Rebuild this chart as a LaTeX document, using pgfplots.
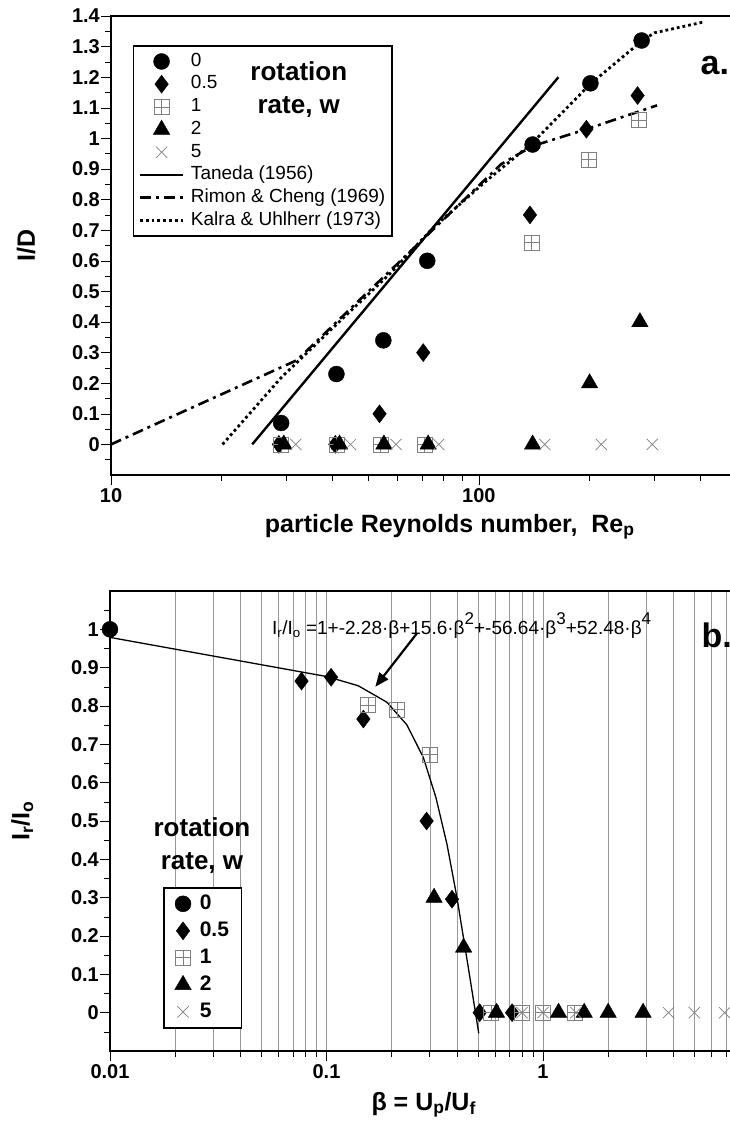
\documentclass[border=0pt]{standalone}
\usepackage{fontspec}
\setmainfont{Liberation Sans}
\usepackage{pgfplots}
\pgfplotsset{compat=1.18}
\usetikzlibrary{arrows.meta}

\pgfdeclareplotmark{boxplus}{%
  \pgfpathrectangle{\pgfqpoint{-\pgfplotmarksize}{-\pgfplotmarksize}}{\pgfqpoint{2\pgfplotmarksize}{2\pgfplotmarksize}}%
  \pgfpathmoveto{\pgfqpoint{-\pgfplotmarksize}{0pt}}\pgfpathlineto{\pgfqpoint{\pgfplotmarksize}{0pt}}%
  \pgfpathmoveto{\pgfqpoint{0pt}{-\pgfplotmarksize}}\pgfpathlineto{\pgfqpoint{0pt}{\pgfplotmarksize}}%
  \pgfusepathqstroke}

\newcommand{\hisup}[1]{\raisebox{0.55em}{\fontsize{17}{17}\selectfont #1}}

\pgfplotsset{
  mlegend/.style={legend image code/.code={\draw[mark repeat=2,mark phase=2,##1] plot coordinates {(0pt,0pt) (#1,0pt) ({2*#1},0pt)};}},
  w0/.style={only marks, mark=*, mark size=8pt, black, mark options={solid, line width=0.4pt}},
  w05/.style={only marks, mark=diamond*, mark size=9pt, black, mark options={solid, line width=0.4pt}},
  w1/.style={only marks, mark=boxplus, mark size=7.5pt, color=black!50, mark options={solid, line width=0.7pt}},
  w2/.style={only marks, mark=triangle*, mark size=9.5pt, black, mark options={solid, line width=0.4pt}},
  w5/.style={only marks, mark=x, mark size=8pt, color=black!50, mark options={solid, line width=0.7pt}},
}

\begin{document}
\begin{tikzpicture}
% ---------------- panel a ----------------
\begin{axis}[
  xmode=log, scale only axis,
  axis line style={line width=1.6pt},
  tick align=outside, tick pos=left,
  major tick length=10pt, minor tick length=6pt,
  every tick/.style={black, line width=0.6pt},
  ticklabel style={font=\bfseries\fontsize{20}{24}\selectfont},
  /pgf/number format/assume math mode=true,
  yticklabel style={/pgf/number format/fixed, /pgf/number format/precision=2, inner xsep=1pt},
  xlabel style={font=\bfseries\fontsize{25}{30}\selectfont, anchor=center, at={(axis description cs:0.542,-0.113)}},
  ylabel style={font=\bfseries\fontsize{25}{30}\selectfont, anchor=center, at={(axis description cs:-0.136,0.5)}},
  at={(111pt,-475pt)}, anchor=south west, width=625pt, height=459pt,
  xmin=10, xmax=500, ymin=-0.1, ymax=1.4,
  xtick={10,100}, xticklabels={10,100},
  minor xtick={20,30,40,50,60,70,80,90,200,300,400},
  ytick={0,0.1,0.2,0.3,0.4,0.5,0.6,0.7,0.8,0.9,1,1.1,1.2,1.3,1.4},
  minor ytick={-0.05,0.05,0.15,0.25,0.35,0.45,0.55,0.65,0.75,0.85,0.95,1.05,1.15,1.25,1.35},
  xlabel={particle Reynolds number,\ \ Re\textsubscript{p}},
  ylabel={I/D},
  legend style={at={(0.035,0.937)}, anchor=north west, draw=black, line width=1.6pt, fill=none,
    font=\fontsize{19}{21}\selectfont, inner xsep=5pt, inner ysep=5pt, row sep=1.2pt, column sep=5pt,
    nodes={inner sep=1.5pt, text height=14pt, text depth=4.5pt}},
  legend cell align=left,
]
\addplot[w0, mlegend=21.5pt] coordinates {(29,0.07)(41,0.23)(55,0.34)(72.4,0.60)(140,0.98)(201,1.18)(277,1.32)};
\addlegendentry{0}
\addplot[w05, mlegend=21.5pt] coordinates {(28.6,0)(40.7,0)(53.7,0.10)(70.6,0.30)(137.7,0.75)(196,1.03)(270,1.14)};
\addlegendentry{0.5}
\addplot[w1, mlegend=21.5pt] coordinates {(29,0)(41,0)(54,0)(71.3,0)(139,0.66)(198.7,0.93)(272,1.06)};
\addlegendentry{1}
\addplot[w2, mlegend=21.5pt] coordinates {(29.5,0)(41.8,0)(55.2,0)(72.8,0)(140,0)(200,0.20)(274,0.40)};
\addlegendentry{2}
\addplot[w5, mlegend=21.5pt] coordinates {(31.8,0)(44.8,0)(59.5,0)(77.8,0)(151,0)(215,0)(296,0)};
\addlegendentry{5}
\addplot[black, line width=2.4pt, mlegend=21.5pt] coordinates {(24.2,0)(164.5,1.2)};
\addlegendentry{Taneda (1956)}
\addplot[black, line width=2.6pt, dash pattern=on 11pt off 5pt on 3pt off 5pt, mlegend=21.5pt] coordinates {(10,0)(14,0.08)(20,0.164)(26,0.226)(32,0.275)(40,0.387)(50,0.499)(63,0.614)(80,0.734)(100,0.846)(115,0.916)(140,0.975)(196,1.03)(305,1.108)};
\addlegendentry{Rimon \& Cheng (1969)}
\addplot[black, line width=2.8pt, dash pattern=on 2.8pt off 3pt, mlegend=21.5pt] coordinates {(20.1,0)(29,0.218)(42,0.404)(57,0.555)(75,0.707)(104,0.858)(140,0.986)(201,1.178)(277,1.318)(300,1.345)(407,1.38)};
\addlegendentry{Kalra \& Uhlherr (1973)}
\node[font=\bfseries\fontsize{26}{33}\selectfont, align=center] at (axis cs:32.4,1.158) {rotation\\rate, w};
\node[font=\bfseries\fontsize{34}{40}\selectfont, anchor=west] at (axis cs:392,1.237) {a.};
\end{axis}
% ---------------- panel b ----------------
\begin{axis}[
  xmode=log, scale only axis,
  axis line style={line width=1.6pt},
  tick align=outside, tick pos=left,
  major tick length=10pt, minor tick length=6pt,
  every tick/.style={black, line width=0.6pt},
  ticklabel style={font=\bfseries\fontsize{20}{24}\selectfont},
  /pgf/number format/assume math mode=true,
  yticklabel style={/pgf/number format/fixed, /pgf/number format/precision=2, inner xsep=1pt},
  xlabel style={font=\bfseries\fontsize{25}{30}\selectfont, anchor=center, at={(axis description cs:0.483,-0.117)}},
  ylabel style={font=\bfseries\fontsize{25}{30}\selectfont, anchor=center, at={(axis description cs:-0.135,0.5)}},
  at={(110pt,-1051pt)}, anchor=south west, width=649.5pt, height=460pt,
  xmin=0.01, xmax=10, ymin=-0.1, ymax=1.1,
  xtick={0.01,0.1,1}, xticklabels={0.01,0.1,1},
  minor xtick={0.02,0.03,0.04,0.05,0.06,0.07,0.08,0.09,0.2,0.3,0.4,0.5,0.6,0.7,0.8,0.9,2,3,4,5,6,7,8,9},
  xmajorgrids, xminorgrids, grid style={black!40, line width=0.5pt},
  ytick={0,0.1,0.2,0.3,0.4,0.5,0.6,0.7,0.8,0.9,1},
  minor ytick={-0.05,0.05,0.15,0.25,0.35,0.45,0.55,0.65,0.75,0.85,0.95,1.05},
  xlabel={β = U\textsubscript{p}/U\textsubscript{f}},
  ylabel={I\textsubscript{r}/I\textsubscript{o}},
  legend style={at={(0.0816,0.3565)}, anchor=north west, draw=black, line width=1.6pt, fill=white,
    font=\bfseries\fontsize{21}{23}\selectfont, inner xsep=11pt, inner ysep=5pt, row sep=5pt, column sep=7pt,
    nodes={inner sep=1.5pt, text height=15pt, text depth=4pt}},
  legend cell align=left,
]
\addplot[black, line width=1.3pt, forget plot] coordinates {(0.01,0.979)(0.1,0.877)(0.14,0.853)(0.19,0.81)(0.235,0.751)(0.28,0.666)(0.32,0.562)(0.36,0.44)(0.4,0.302)(0.45,0.124)(0.505,-0.054)};
\addplot[w0, mlegend=9pt] coordinates {(0.01,1.0)};
\addlegendentry{0}
\addplot[w05, mlegend=9pt] coordinates {(0.0767,0.865)(0.105,0.875)(0.148,0.766)(0.29,0.50)(0.38,0.296)(0.51,0)(0.72,0)};
\addlegendentry{0.5}
\addplot[w1, mlegend=9pt] coordinates {(0.156,0.803)(0.212,0.79)(0.30,0.673)(0.575,0)(0.80,0)(1.0,0)(1.4,0)};
\addlegendentry{1}
\addplot[w2, mlegend=9pt] coordinates {(0.314,0.30)(0.43,0.17)(0.61,0)(1.18,0)(1.55,0)(2.0,0)(2.9,0)};
\addlegendentry{2}
\addplot[w5, mlegend=9pt] coordinates {(0.8,0)(1.0,0)(1.42,0)(3.8,0)(5.0,0)(6.9,0)};
\addlegendentry{5}
\node[anchor=west, font=\fontsize{19}{22}\selectfont] at (axis cs:0.054,1.01) {I\textsubscript{r}/I\textsubscript{o} =1+-2.28·β+15.6·β\hisup{2}+-56.64·β\hisup{3}+52.48·β\hisup{4}};
\draw[-{Triangle[length=14pt,width=11pt]}, line width=2.2pt] (axis cs:0.262,0.99) -- (axis cs:0.168,0.85);
\node[font=\bfseries\fontsize{26}{33}\selectfont, align=center] at (axis cs:0.0266,0.437) {rotation\\rate, w};
\node[font=\bfseries\fontsize{34}{40}\selectfont, anchor=west] at (axis cs:5.2,0.985) {b.};
\end{axis}
\pgfresetboundingbox
\useasboundingbox (0pt,0pt) rectangle (730pt,-1130pt);
\end{tikzpicture}
\end{document}
